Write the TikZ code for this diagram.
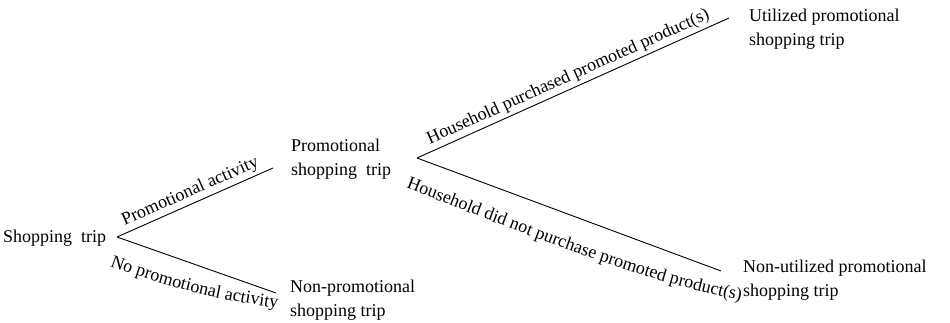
\documentclass[tikz,border=0pt]{standalone}
\usepackage{fontspec}
\setmainfont{Liberation Serif}
\usetikzlibrary{decorations.text}
\begin{document}
\begin{tikzpicture}[x=1pt,y=-1pt,
  branch/.style={line width=0.9pt},
  leaf/.style={anchor=west,align=left,inner sep=0pt},
  lbl/.style={midway,above,sloped,inner sep=3pt},
  curvedlbl/.style={decorate,decoration={text along path,text align=left,text={#1}}}]
\fontsize{18}{23.5}\selectfont
\useasboundingbox (0,0) rectangle (950,323);

% branch points of the tree
\coordinate (root) at (117,237);
\coordinate (promoEnd) at (273,168);
\coordinate (nonpromoEnd) at (276,293);
\coordinate (promo) at (417,158);
\coordinate (utilEnd) at (729,18);
\coordinate (nonutilEnd) at (721,271);

% outcome texts
\node[anchor=base west,inner sep=0pt] (trip) at (3,242) {Shopping\ \ trip};
\node[leaf] (promoTxt) at (291,159) {Promotional\\shopping\ \ trip};
\node[leaf] (nonpromoTxt) at (290,300) {Non-promotional\\shopping trip};
\node[leaf] (utilTxt) at (749,29) {Utilized promotional\\shopping trip};
\node[leaf] (nonutilTxt) at (743,280) {Non-utilized promotional\\shopping trip};

% branches
\draw[branch] (root) -- node[lbl] {Promotional activity} (promoEnd);
\draw[branch] (root) -- (nonpromoEnd);
\draw[branch] (promo) -- node[lbl] {Household purchased promoted product(s)} (utilEnd);
\draw[branch] (promo) -- (nonutilEnd);

% labels set along bent baselines under the lower branches
\path[curvedlbl={No promotional activity}]
  (110,266) .. controls (170,288) and (222,301) .. (285,309);
\path[curvedlbl={Household did not purchase promoted product(s)}]
  (406,188) .. controls (516,230) and (645,284) .. (750,302);
\end{tikzpicture}
\end{document}
